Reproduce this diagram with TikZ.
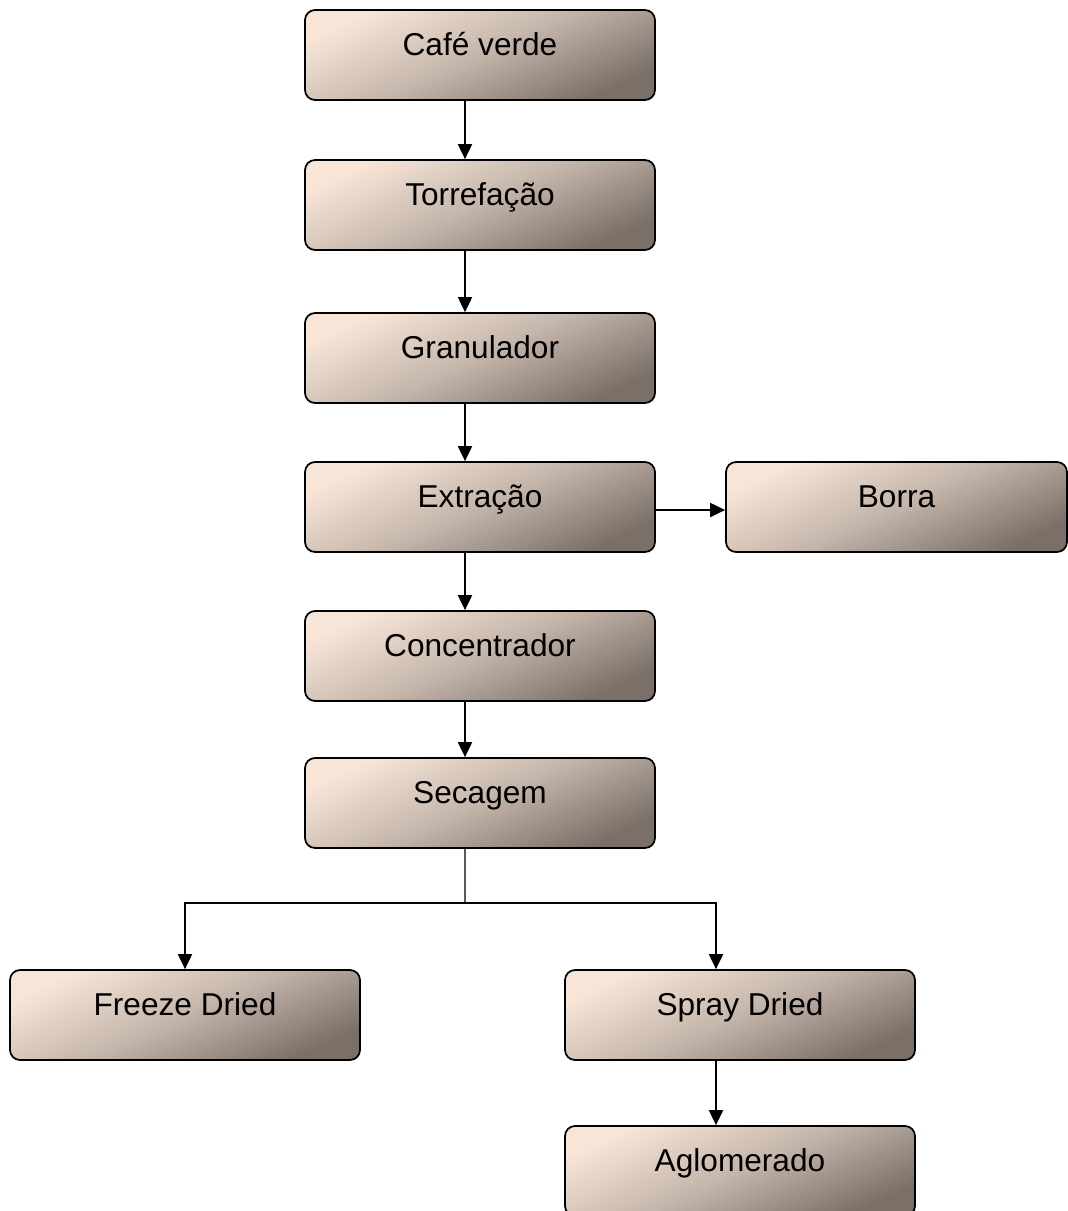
\documentclass[tikz,border=0pt]{standalone}
\usepackage{fontspec}
\setmainfont{Liberation Sans}
\usetikzlibrary{arrows.meta}
\definecolor{boxlight}{RGB}{247,230,216}
\definecolor{boxmid}{RGB}{196,181,170}
\definecolor{boxdark}{RGB}{122,112,104}
\begin{document}
\begin{tikzpicture}[x=0.02cm,y=-0.02cm,
    etapa/.style={draw=black,line width=1pt,rounded corners=0.2cm,
      top color=boxlight,bottom color=boxdark,middle color=boxmid,shading angle=25,
      minimum width=7cm,minimum height=1.8cm,inner sep=0pt,
      text height=0.4cm,text depth=0.4cm,
      font=\fontsize{18}{20}\selectfont},
    seta/.style={line width=1.1pt,-{Triangle[length=0.3cm,width=0.28cm]}}]
    \useasboundingbox (0,0) rectangle (1068,1211);

    \node[etapa] (cafe) at (480,55) {Café verde};
    \node[etapa] (torref) at (480,205) {Torrefação};
    \node[etapa] (gran) at (480,358) {Granulador};
    \node[etapa] (extr) at (480,507) {Extração};
    \node[etapa,minimum width=6.82cm] (borra) at (896.5,507) {Borra};
    \node[etapa] (conc) at (480,656) {Concentrador};
    \node[etapa] (sec) at (480,803) {Secagem};
    \node[etapa] (freeze) at (185,1015) {Freeze Dried};
    \node[etapa] (spray) at (740,1015) {Spray Dried};
    \node[etapa] (aglom) at (740,1171) {Aglomerado};

    \draw[seta] ([xshift=-0.3cm]cafe.south) -- ([xshift=-0.3cm]torref.north);
    \draw[seta] ([xshift=-0.3cm]torref.south) -- ([xshift=-0.3cm]gran.north);
    \draw[seta] ([xshift=-0.3cm]gran.south) -- ([xshift=-0.3cm]extr.north);
    \draw[seta] ([xshift=-0.3cm]extr.south) -- ([xshift=-0.3cm]conc.north);
    \draw[seta] ([xshift=-0.3cm]conc.south) -- ([xshift=-0.3cm]sec.north);
    \draw[seta] ([yshift=-0.06cm]extr.east) -- ([yshift=-0.06cm]borra.west);

    \coordinate (ramo) at (465,903);
    \draw[line width=0.6pt] ([xshift=-0.3cm]sec.south) -- (ramo);
    \draw[seta] (ramo) -| (freeze.north);
    \draw[seta] (ramo) -| ([xshift=-0.48cm]spray.north);
    \draw[seta] ([xshift=-0.48cm]spray.south) -- ([xshift=-0.48cm]aglom.north);

\end{tikzpicture}
\end{document}
